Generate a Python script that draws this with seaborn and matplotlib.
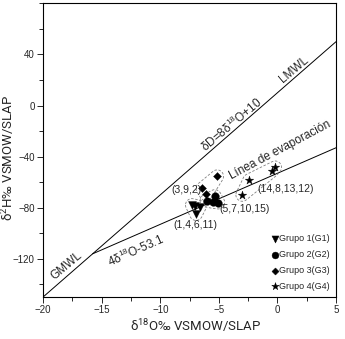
import numpy as np
import pandas as pd
import seaborn as sns
import matplotlib.pyplot as plt

## Datos
g1_x = [-7.3, -7.05, -6.65, -6.95]
g1_y = [-78.0, -78.5, -79.5, -85.0]
g2_x = [-6.05, -5.35, -5.5, -5.05]
g2_y = [-74.5, -71.0, -75.5, -76.0]
g3_x = [-6.4, -6.1, -5.15]
g3_y = [-65.0, -69.5, -55.5]
g4_x = [-3.0, -2.4, -0.5, -0.2]
g4_y = [-70.0, -58.5, -51.5, -48.5]

grupos = ["Grupo 1(G1)", "Grupo 2(G2)", "Grupo 3(G3)", "Grupo 4(G4)"]
etiquetas = ["(1,4,6,11)", "(5,7,10,15)", "(3,9,2)", "(14,8,13,12)"]

# LMWL: dD = 8*d18O + 10 ; evaporacion: 4*d18O - 53.1
lmwl_a, lmwl_b = 8, 10
evap_a, evap_b = 4, -53.1

df = pd.DataFrame({
    "x": g1_x + g2_x + g3_x + g4_x,
    "y": g1_y + g2_y + g3_y + g4_y,
    "grupo": [grupos[0]] * len(g1_x) + [grupos[1]] * len(g2_x)
             + [grupos[2]] * len(g3_x) + [grupos[3]] * len(g4_x),
})

sns.set_style("white")
plt.rcParams["font.family"] = ["Liberation Sans", "DejaVu Sans"]
plt.rcParams["mathtext.default"] = "regular"

fig = plt.figure(figsize=(3.45, 3.39), dpi=100)
ax = fig.add_axes([0.125, 0.124, 0.849, 0.866])

xlo, xhi = -20, 5
ylo, yhi = -150, 80

# lineas
xx = np.array([xlo, xhi])
ax.plot(xx, lmwl_a * xx + lmwl_b, color="black", lw=0.7)
x_int = (evap_b - lmwl_b) / (lmwl_a - evap_a)
xe = np.array([x_int, xhi])
ax.plot(xe, evap_a * xe + evap_b, color="black", lw=0.7)

markers = {grupos[0]: "v", grupos[1]: "o", grupos[2]: "D", grupos[3]: "*"}
sizes = {grupos[0]: 32, grupos[1]: 30, grupos[2]: 16, grupos[3]: 40}
for g in grupos:
    d = df[df.grupo == g]
    sns.scatterplot(data=d, x="x", y="y", marker=markers[g], s=sizes[g],
                    color="black", edgecolor="black", linewidth=0.3,
                    ax=ax, label=g, zorder=3)

ax.set_xlim(xlo, xhi)
ax.set_ylim(ylo, yhi)


# contornos discontinuos alrededor de cada grupo (envolvente convexa)
def hull(pts):
    pts = sorted(map(tuple, pts))
    def cross(o, a, b):
        return (a[0] - o[0]) * (b[1] - o[1]) - (a[1] - o[1]) * (b[0] - o[0])
    lower, upper = [], []
    for p in pts:
        while len(lower) >= 2 and cross(lower[-2], lower[-1], p) <= 0:
            lower.pop()
        lower.append(p)
    for p in reversed(pts):
        while len(upper) >= 2 and cross(upper[-2], upper[-1], p) <= 0:
            upper.pop()
        upper.append(p)
    return lower[:-1] + upper[:-1]


t = np.linspace(0, 2 * np.pi, 24, endpoint=False)
for g in grupos:
    d = df[df.grupo == g]
    pa = ax.transAxes.inverted().transform(ax.transData.transform(d[["x", "y"]].values))
    r = 0.022
    cloud = [(px + r * np.cos(a), py + r * np.sin(a)) for px, py in pa for a in t]
    h = np.array(hull(cloud))
    h = np.vstack([h, h[:1]])
    ax.plot(h[:, 0], h[:, 1], transform=ax.transAxes, color="gray",
            lw=0.6, ls=(0, (3, 2)), zorder=2)

# textos
fs = 8.5
ax.text(-3.9, -15, r"δD=8δ$^{18}$O+10", rotation=40, fontsize=fs,
        ha="center", va="center")
ax.text(1.4, 28, "LMWL", rotation=40, fontsize=fs, ha="center", va="center")
ax.text(-18.0, -126, "GMWL", rotation=40, fontsize=fs, ha="center", va="center")
ax.text(-12.1, -114, r"4δ$^{18}$O-53.1", rotation=24, fontsize=fs,
        ha="center", va="center")
ax.text(0.2, -35, "Línea de evaporación", rotation=28, fontsize=fs,
        ha="center", va="center")

fl = 7.5
ax.text(-7.0, -94, etiquetas[0], fontsize=fl, ha="center", va="center")
ax.text(-2.8, -81, etiquetas[1], fontsize=fl, ha="center", va="center")
ax.text(-7.8, -66.5, etiquetas[2], fontsize=fl, ha="center", va="center")
ax.text(0.7, -65.5, etiquetas[3], fontsize=fl, ha="center", va="center")

ax.set_xticks(np.arange(-20, 6, 5))
ax.set_xticks(np.arange(-20, 6, 2.5), minor=True)
ax.set_yticks([-120, -80, -40, 0, 40])
ax.set_yticks(np.arange(-140, 81, 20), minor=True)
ax.tick_params(which="both", direction="out", length=3, width=0.7,
               labelsize=7, bottom=True, left=True, top=False, right=False,
               pad=2)
ax.tick_params(which="major", length=4)
for s in ax.spines.values():
    s.set_linewidth(0.8)
    s.set_color("black")

ax.set_xlabel(r"δ$^{18}$O‰ VSMOW/SLAP", fontsize=9.5, family="Roboto")
ax.set_ylabel(r"δ$^{2}$H‰ VSMOW/SLAP", fontsize=9.5, family="Roboto")
ax.xaxis.set_label_coords(0.52, -0.068)
ax.yaxis.set_label_coords(-0.088, 0.475)

ax.legend(loc="lower right", frameon=False, fontsize=6.5, handletextpad=0,
          handlelength=1.0, labelspacing=0.75, borderaxespad=0.3,
          markerscale=0.9)

fig.savefig("out.png", dpi=100)
